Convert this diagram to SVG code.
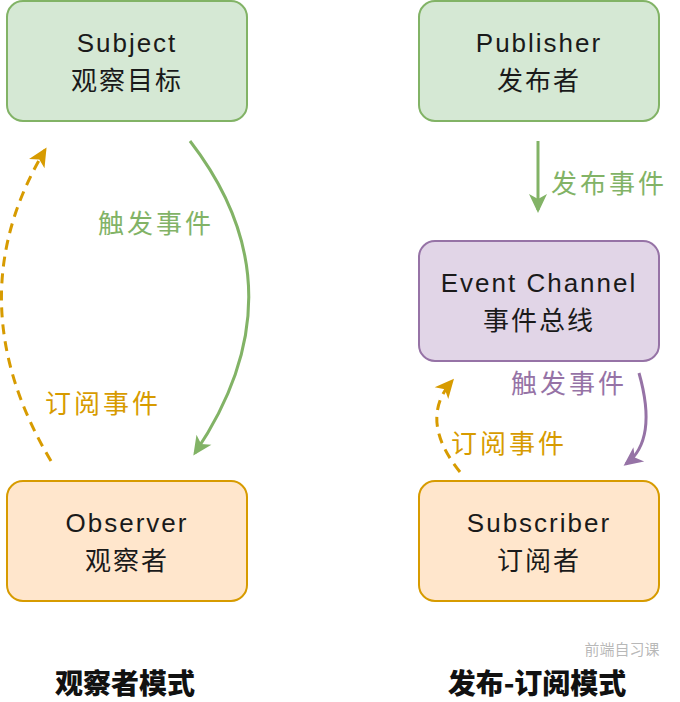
<svg xmlns="http://www.w3.org/2000/svg" width="680" height="702" viewBox="0 0 680 702">
<style>
.box{stroke-width:2}
.g{fill:#d5e8d4;stroke:#82b366}
.p{fill:#e1d5e7;stroke:#9673a6}
.o{fill:#ffe6cc;stroke:#d79b00}
.t{font-family:"Liberation Sans","Noto Sans CJK SC",sans-serif;font-size:26px;letter-spacing:2px;fill:#1a1a1a;text-anchor:middle;dominant-baseline:central}
.lbl{font-family:"Noto Sans CJK SC",sans-serif;font-size:26px;letter-spacing:3px;text-anchor:middle;dominant-baseline:central}
.title{font-family:"Noto Sans CJK SC",sans-serif;font-size:28px;font-weight:900;fill:#111;text-anchor:middle;dominant-baseline:central}
.conn{fill:none;stroke-width:3}
</style>
<defs>
<marker id="ag" markerWidth="12" markerHeight="10" refX="10" refY="5" orient="auto" markerUnits="userSpaceOnUse" viewBox="0 0 12 10" overflow="visible">
<path d="M-6,-4 L13,5 L-6,14 L-1,5 z" fill="#82b366"/>
</marker>
<marker id="ap" markerWidth="12" markerHeight="10" refX="10" refY="5" orient="auto" markerUnits="userSpaceOnUse" viewBox="0 0 12 10" overflow="visible">
<path d="M-6,-4 L13,5 L-6,14 L-1,5 z" fill="#9673a6"/>
</marker>
<marker id="ao" markerWidth="12" markerHeight="10" refX="10" refY="5" orient="auto" markerUnits="userSpaceOnUse" viewBox="0 0 12 10" overflow="visible">
<path d="M-6,-4 L13,5 L-6,14 L-1,5 z" fill="#d79b00"/>
</marker>
</defs>

<g id="subject">
<rect class="box g" x="7" y="1" width="240" height="120" rx="16"/>
<text class="t" x="127" y="43">Subject</text>
<text class="t" x="127" y="81">观察目标</text>
</g>
<g id="publisher">
<rect class="box g" x="419" y="1" width="240" height="120" rx="16"/>
<text class="t" x="539" y="43">Publisher</text>
<text class="t" x="539" y="81">发布者</text>
</g>
<g id="event-channel">
<rect class="box p" x="419" y="241" width="240" height="120" rx="16"/>
<text class="t" x="539" y="283">Event Channel</text>
<text class="t" x="539" y="321">事件总线</text>
</g>
<g id="observer">
<rect class="box o" x="7" y="481" width="240" height="120" rx="16"/>
<text class="t" x="127" y="523">Observer</text>
<text class="t" x="127" y="561">观察者</text>
</g>
<g id="subscriber">
<rect class="box o" x="419" y="481" width="240" height="120" rx="16"/>
<text class="t" x="539" y="523">Subscriber</text>
<text class="t" x="539" y="561">订阅者</text>
</g>

<g id="connectors">
<path class="conn" stroke="#82b366" d="M190,141 Q305,290 195,453" marker-end="url(#ag)"/>
<path class="conn" stroke="#d79b00" stroke-dasharray="10,7" d="M51,461 Q-45,300 45,150" marker-end="url(#ao)"/>
<path class="conn" stroke="#82b366" d="M538,141 L538,210" marker-end="url(#ag)"/>
<path class="conn" stroke="#9673a6" d="M639,373 Q658,440 626,464" marker-end="url(#ap)"/>
<path class="conn" stroke="#d79b00" stroke-dasharray="10,7" d="M460,472 Q418,420 452,381" marker-end="url(#ao)"/>
</g>

<g id="labels">
<text class="lbl" x="156" y="221" fill="#82b366">触发事件</text>
<text class="lbl" x="103" y="401" fill="#d79b00">订阅事件</text>
<text class="lbl" x="609" y="181" fill="#82b366">发布事件</text>
<text class="lbl" x="569" y="381" fill="#9673a6">触发事件</text>
<text class="lbl" x="509" y="441" fill="#d79b00">订阅事件</text>
</g>

<g id="titles">
<text class="title" x="125" y="682">观察者模式</text>
<text class="title" x="537" y="682">发布-订阅模式</text>
<text x="622" y="648" font-family="Noto Sans CJK SC,sans-serif" font-size="15" fill="#999" fill-opacity="0.7" text-anchor="middle" dominant-baseline="central">前端自习课</text>
</g>
</svg>
